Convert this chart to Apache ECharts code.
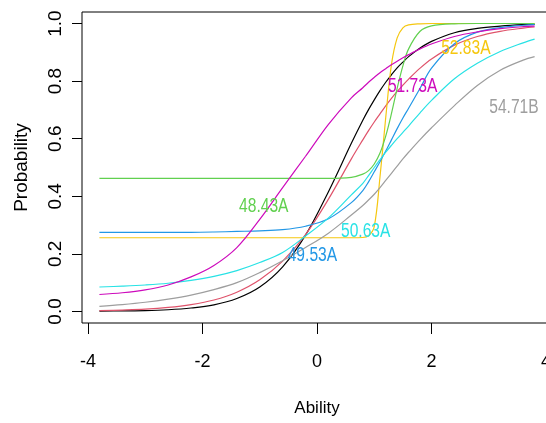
<!DOCTYPE html>
<html>
<head>
<meta charset="utf-8">
<script src="https://cdn.jsdelivr.net/npm/echarts@6/dist/echarts.min.js"></script>
<style>
html,body{margin:0;padding:0;background:#fff;}
#chart{width:546px;height:423px;}
</style>
</head>
<body>
<div id="chart"></div>
<script>
// Ability grid (x values)
var theta = [-3.8,-3.4,-3.0,-2.6,-2.2,-1.8,-1.4,-1.0,-0.6,-0.2,0.2,0.6,0.8,0.9,1.0,1.1,1.2,1.3,1.4,1.5,1.6,1.8,2.0,2.4,2.8,3.2,3.6,3.8];

// Probability curves
var blackP   = [0.001,0.002,0.003,0.006,0.012,0.023,0.045,0.085,0.155,0.265,0.416,0.584,0.664,0.701,0.735,0.767,0.796,0.822,0.846,0.866,0.885,0.915,0.938,0.968,0.983,0.991,0.996,0.997];
var redP     = [0.003,0.005,0.008,0.014,0.024,0.040,0.067,0.110,0.175,0.267,0.390,0.530,0.596,0.628,0.658,0.686,0.714,0.740,0.764,0.786,0.807,0.845,0.877,0.925,0.955,0.973,0.984,0.988];
var greenP   = [0.462,0.462,0.462,0.462,0.462,0.462,0.462,0.462,0.462,0.462,0.462,0.466,0.477,0.489,0.512,0.550,0.609,0.687,0.775,0.853,0.912,0.973,0.992,0.999,1.0,1.0,1.0,1.0];
var blueP    = [0.275,0.275,0.275,0.275,0.275,0.276,0.278,0.280,0.284,0.296,0.322,0.378,0.420,0.450,0.485,0.520,0.557,0.596,0.635,0.672,0.706,0.775,0.845,0.930,0.970,0.986,0.994,0.996];
var cyanP    = [0.085,0.088,0.092,0.098,0.108,0.122,0.142,0.170,0.205,0.262,0.325,0.405,0.445,0.472,0.500,0.527,0.553,0.577,0.600,0.622,0.644,0.690,0.733,0.808,0.862,0.903,0.933,0.946];
var magentaP = [0.059,0.065,0.075,0.092,0.120,0.160,0.222,0.320,0.430,0.539,0.650,0.742,0.777,0.796,0.813,0.829,0.843,0.857,0.869,0.881,0.892,0.912,0.929,0.955,0.971,0.982,0.989,0.991];
var yellowP  = [0.256,0.256,0.256,0.256,0.256,0.256,0.256,0.256,0.256,0.256,0.256,0.256,0.257,0.263,0.295,0.467,0.673,0.857,0.950,0.985,0.995,0.999,1.0,1.0,1.0,1.0,1.0,1.0];
var grayP    = [0.018,0.024,0.032,0.043,0.057,0.076,0.100,0.135,0.176,0.222,0.272,0.335,0.368,0.387,0.407,0.430,0.455,0.480,0.505,0.530,0.553,0.597,0.638,0.715,0.785,0.838,0.873,0.885];

// Curve labels
var labelText  = ["48.43A","49.53A","50.63A","51.73A","52.83A","54.71B"];
var labelTheta = [-0.93,-0.08,0.85,1.67,2.60,3.44];
var labelProb  = [0.366,0.193,0.279,0.781,0.913,0.710];

// Tick labels
var xTicks = [-4,-2,0,2,4];
var yTicks = [0,0.2,0.4,0.6,0.8,1.0];

var colBlack='#000000', colRed='#DF536B', colGreen='#61D04F', colBlue='#2297E6',
    colCyan='#28E2E5', colMagenta='#CD0BBC', colYellow='#F5C710', colGray='#9E9E9E';
var labelColors = [colGreen,colBlue,colCyan,colMagenta,colYellow,colGray];

var regular = "'Liberation Sans',Arial,sans-serif";

function mk(arr){ return theta.map(function(t,i){ return [t, arr[i]]; }); }
function line(name, arr, color){
  return {name:name, type:'line', data:mk(arr), showSymbol:false, smooth:0.35,
    lineStyle:{color:color, width:1.2}, itemStyle:{color:color}, silent:true, z:2};
}

var chart = echarts.init(document.getElementById('chart'), null, {renderer:'canvas'});
chart.setOption({
  animation:false,
  backgroundColor:'#ffffff',
  grid:{left:82, width:470, top:12, bottom:100, containLabel:false, outerBoundsMode:'none',
    show:true, borderColor:'#000', borderWidth:1, backgroundColor:'transparent'},
  xAxis:{type:'value', min:-4.104, max:4.104,
    name:'Ability', nameLocation:'middle', nameGap:77,
    nameTextStyle:{fontFamily:regular, fontSize:17, color:'#000'},
    axisLine:{show:false, onZero:false}, splitLine:{show:false},
    axisTick:{show:true, length:11, customValues:xTicks, lineStyle:{color:'#000', width:1}},
    axisLabel:{show:true, customValues:xTicks, margin:30, fontFamily:regular, fontSize:18, color:'#000', hideOverlap:false}
  },
  yAxis:{type:'value', min:-0.04, max:1.04,
    name:'Probability', nameLocation:'middle', nameGap:51, nameRotate:90,
    nameTextStyle:{fontFamily:regular, fontSize:19, color:'#000'},
    axisLine:{show:false, onZero:false}, splitLine:{show:false},
    axisTick:{show:true, length:10, customValues:yTicks, lineStyle:{color:'#000', width:1}},
    axisLabel:{show:true, customValues:yTicks, rotate:90, margin:17, fontFamily:regular, fontSize:19, color:'#000',
      formatter:function(v){ return v.toFixed(1); }}
  },
  series:[
    line('black', blackP, colBlack),
    line('red', redP, colRed),
    line('yellow', yellowP, colYellow),
    line('green', greenP, colGreen),
    line('blue', blueP, colBlue),
    line('cyan', cyanP, colCyan),
    line('magenta', magentaP, colMagenta),
    line('gray', grayP, colGray),
    {type:'custom', silent:true, z:5, clip:false,
      data:labelText.map(function(s,i){ return [labelTheta[i], labelProb[i]]; }),
      renderItem:function(params, api){
        var p = api.coord([api.value(0), api.value(1)]);
        var i = params.dataIndex;
        return {type:'text', x:p[0], y:p[1], scaleX:0.78,
          style:{text:labelText[i], fill:labelColors[i], font:"20px 'Liberation Sans', Arial, sans-serif",
            align:'center', verticalAlign:'middle'}};
      }
    }
  ]
});
</script>
</body>
</html>
